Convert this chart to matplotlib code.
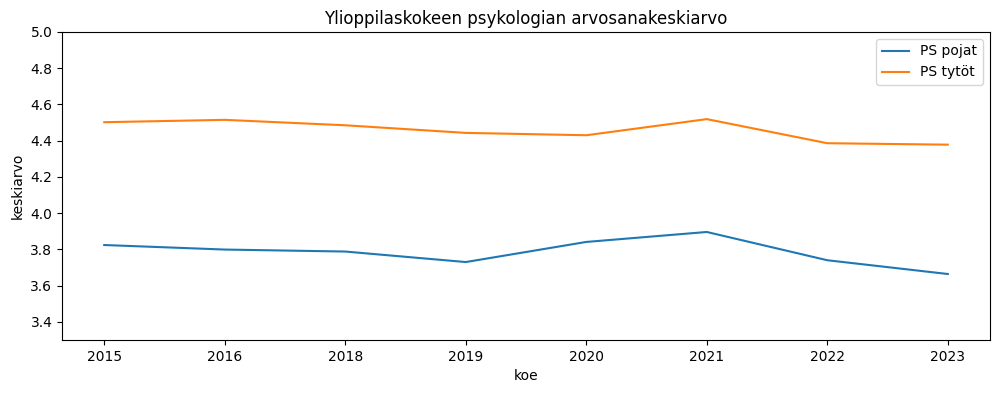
import matplotlib
matplotlib.use("Agg")
import matplotlib.pyplot as plt

years = ["2015", "2016", "2018", "2019", "2020", "2021", "2022", "2023"]
pojat = [3.824, 3.799, 3.788, 3.730, 3.841, 3.896, 3.740, 3.664]
tytot = [4.502, 4.515, 4.485, 4.443, 4.430, 4.519, 4.386, 4.378]

fig = plt.figure(figsize=(10.01, 3.93), dpi=100)
ax = fig.add_axes([0.062, 0.135, 0.927, 0.7836])
ax.plot(years, pojat, label="PS pojat")
ax.plot(years, tytot, label="PS tytöt")
ax.set_ylim(3.3, 5.0)
ax.set_yticks([3.4, 3.6, 3.8, 4.0, 4.2, 4.4, 4.6, 4.8, 5.0])
ax.set_title("Ylioppilaskokeen psykologian arvosanakeskiarvo")
ax.set_xlabel("koe")
ax.set_ylabel("keskiarvo")
ax.legend(loc="upper right")
fig.savefig("out.png", dpi=100)
